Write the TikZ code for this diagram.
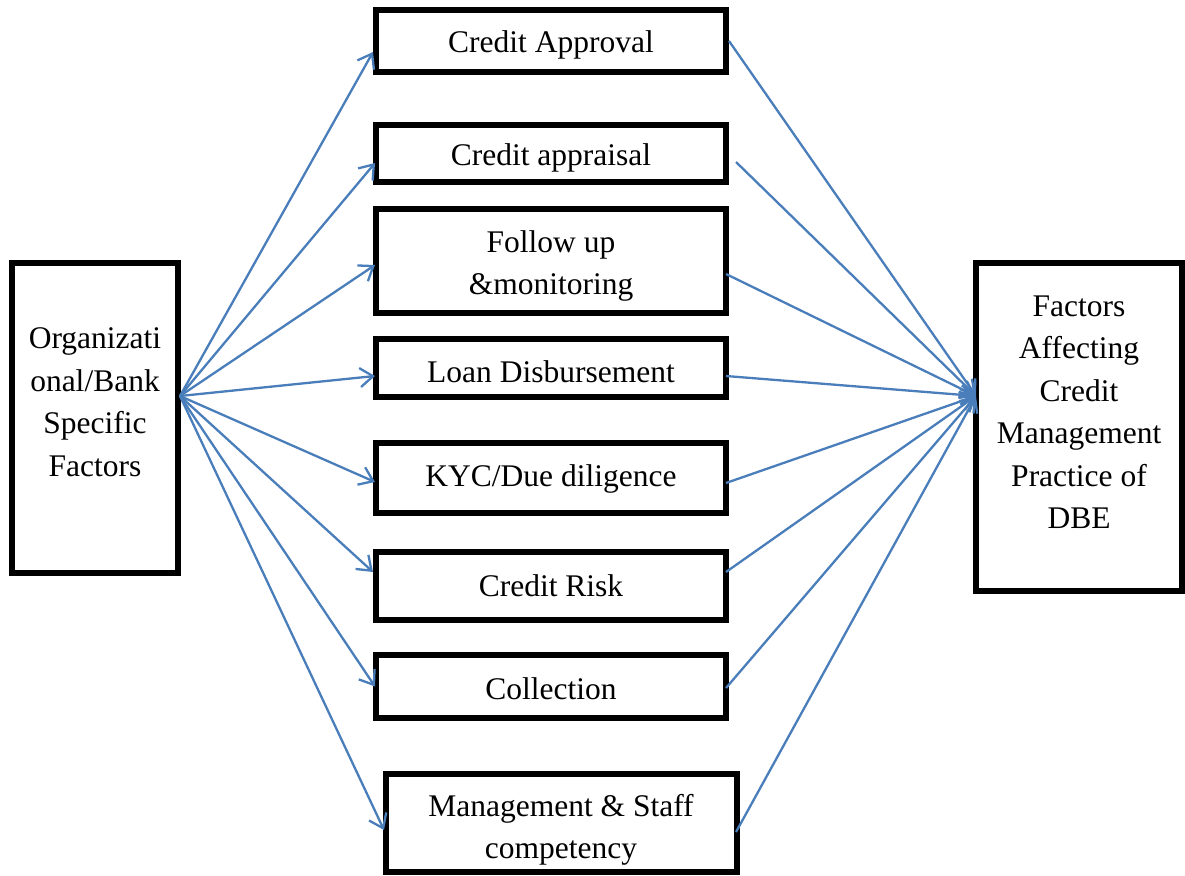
\documentclass[tikz,border=0pt]{standalone}
\usepackage{fontspec}
\setmainfont{Liberation Serif}
\usetikzlibrary{arrows.meta}
\definecolor{arrowblue}{RGB}{74,126,187}
\begin{document}
\begin{tikzpicture}[x=1pt,y=-1pt,
  box/.style={draw=black,line width=6pt,inner sep=0pt},
  txt/.style={font=\fontsize{31.5}{42.5}\selectfont,align=center,inner sep=0pt},
  link/.style={draw=arrowblue,line width=2.3pt,-{Straight Barb[length=13pt,width=19pt]}}]
\useasboundingbox (0,0) rectangle (1185,875);
% boxes
\node[box,minimum width=166pt,minimum height=310pt] (L) at (95,418) {};
\node[box,minimum width=350pt,minimum height=62pt] (ca) at (551,41) {};
\node[box,minimum width=350pt,minimum height=57pt] (cp) at (551,153.5) {};
\node[box,minimum width=350pt,minimum height=104pt] (fu) at (551,261) {};
\node[box,minimum width=350pt,minimum height=58pt] (ld) at (551,368) {};
\node[box,minimum width=350pt,minimum height=70pt] (kyc) at (551,478) {};
\node[box,minimum width=350pt,minimum height=68pt] (cr) at (551,586) {};
\node[box,minimum width=350pt,minimum height=63pt] (co) at (551,686.5) {};
\node[box,minimum width=351pt,minimum height=98pt] (ms) at (561.5,823) {};
\node[box,minimum width=206pt,minimum height=328pt] (R) at (1079,427) {};
% texts
\node[txt] (Lt) at (95,402) {Organizati\\onal/Bank\\Specific\\Factors};
\node[txt] (Rt) at (1079,412) {Factors\\Affecting\\Credit\\Management\\Practice of\\DBE};
\node[txt] (cat) at (551,45) {Credit Approval};
\node[txt] (cpt) at (551,158) {Credit appraisal};
\node[txt] (fut) at (551,266) {Follow up\\\&monitoring};
\node[txt] (ldt) at (551,372) {Loan Disbursement};
\node[txt] (kyct) at (551,479) {KYC/Due diligence};
\node[txt] (crt) at (551,586) {Credit Risk};
\node[txt] (cot) at (551,689) {Collection};
\node[txt] (mst) at (561,830) {Management \& Staff\\competency};
% hubs
\coordinate (src) at (180,396);
\coordinate (tgt) at (976,396);
% left fan
\draw[link] (src) -- ([yshift=-11pt]ca.west);
\draw[link] (src) -- ([yshift=-9.5pt,xshift=2pt]cp.west);
\draw[link] (src) -- ([yshift=-4pt,xshift=2pt]fu.west);
\draw[link] (src) -- ([yshift=-8pt,xshift=2pt]ld.west);
\draw[link] (src) -- ([yshift=-4pt,xshift=2pt]kyc.west);
\draw[link] (src) -- ([yshift=14pt]cr.west);
\draw[link] (src) -- ([xshift=2pt]co.west);
\draw[link] (src) -- ([yshift=-7pt,xshift=1pt]ms.west);
% right fan
\draw[link] (ca.east) -- (tgt);
\draw[link] ([xshift=7pt,yshift=-8.5pt]cp.east) -- (tgt);
\draw[link] ([xshift=-3pt,yshift=-13pt]fu.east) -- (tgt);
\draw[link] ([xshift=-3pt,yshift=-8pt]ld.east) -- (tgt);
\draw[link] ([xshift=-3pt,yshift=-5pt]kyc.east) -- (tgt);
\draw[link] ([xshift=-3pt,yshift=14pt]cr.east) -- (tgt);
\draw[link] ([xshift=-3pt,yshift=-1.5pt]co.east) -- (tgt);
\draw[link] ([xshift=-4pt,yshift=-9pt]ms.east) -- (tgt);
\end{tikzpicture}
\end{document}
